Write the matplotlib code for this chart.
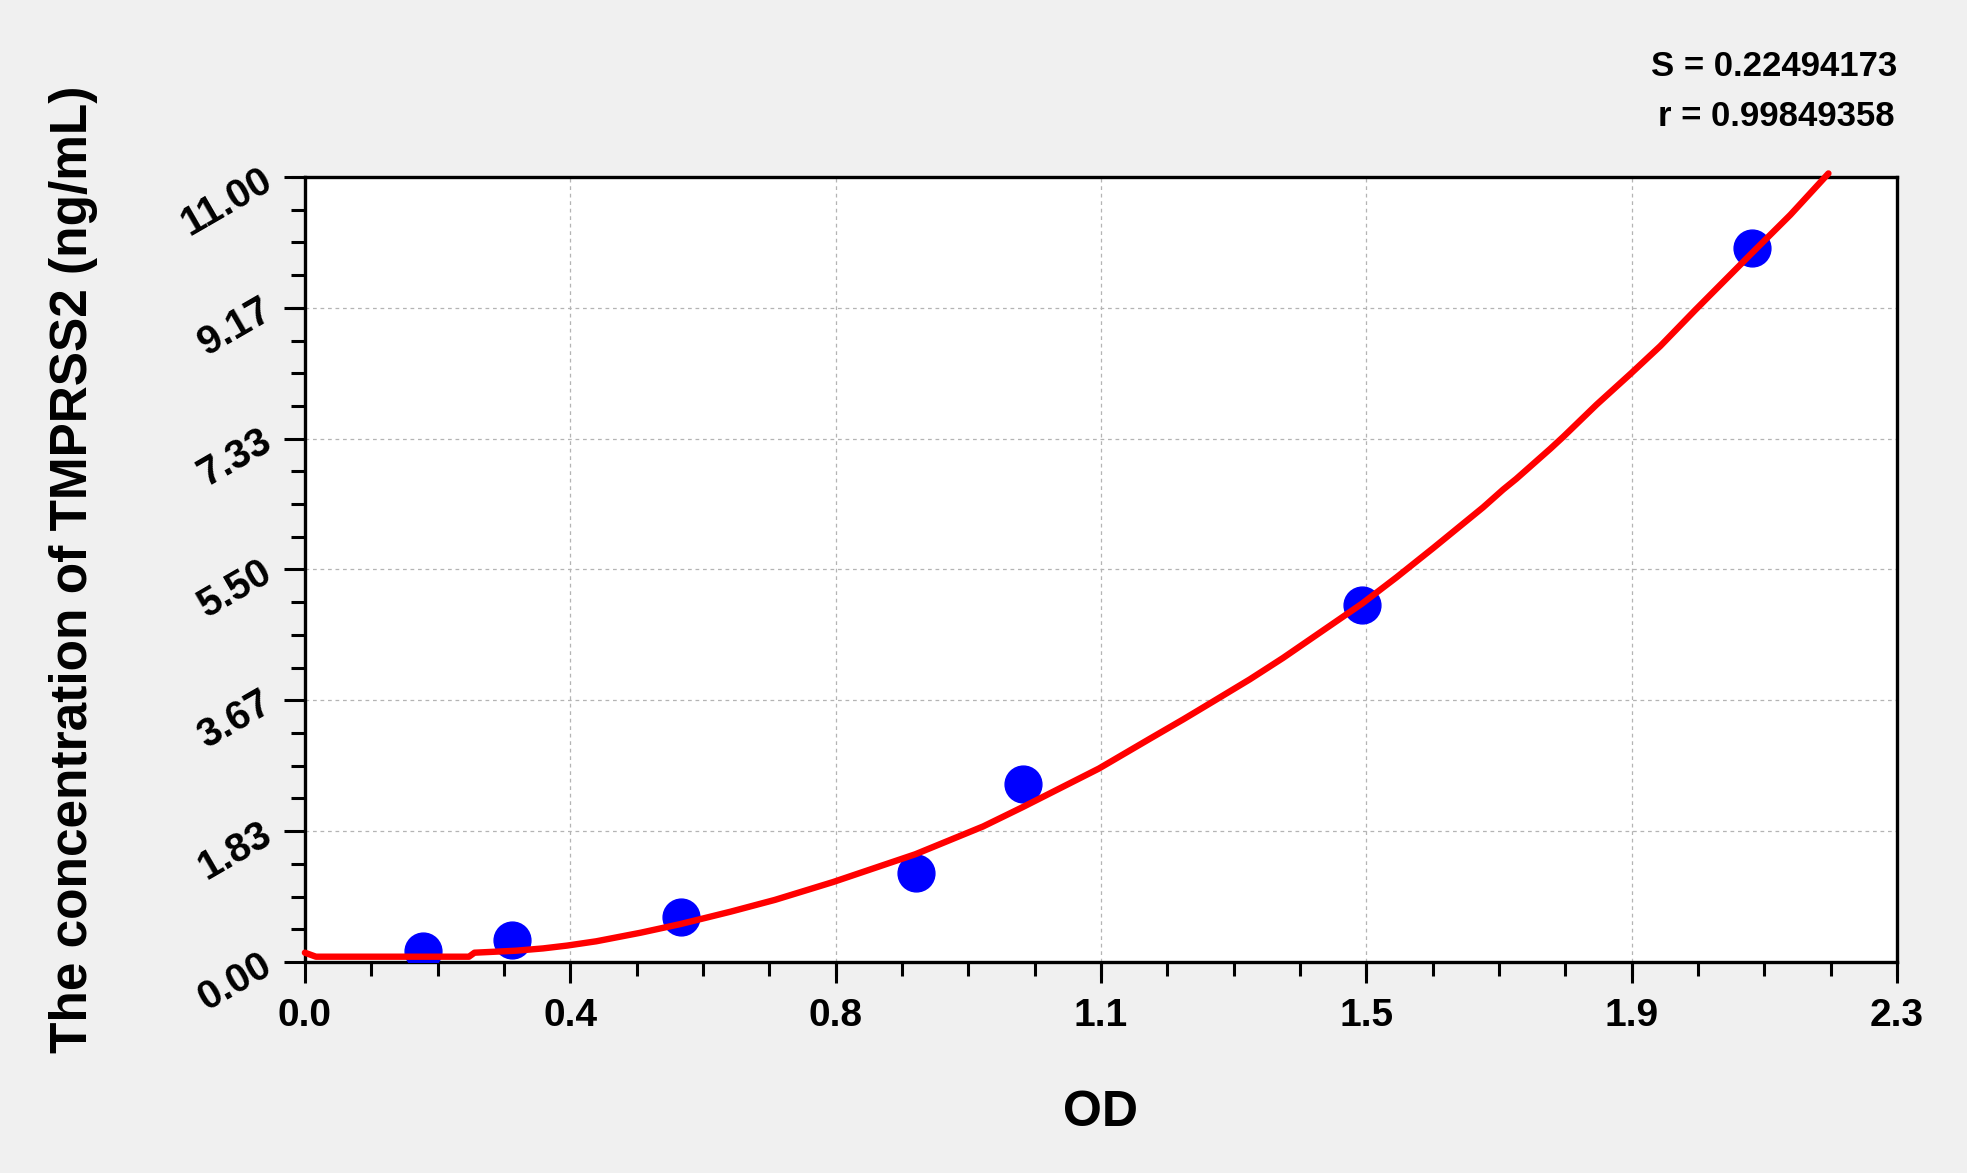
import numpy as np
import matplotlib
matplotlib.use("Agg")
import matplotlib.pyplot as plt
from matplotlib.ticker import AutoMinorLocator

plt.rcParams['font.family'] = ['Liberation Sans', 'DejaVu Sans']
plt.rcParams['font.weight'] = 'bold'

# Standard points
od = [0.170, 0.299, 0.543, 0.883, 1.037, 1.527, 2.090]
conc = [0.156, 0.313, 0.625, 1.25, 2.5, 5.0, 10.0]

# Fitted curve
curve_x = [0.0, 0.016, 0.237, 0.245, 0.305, 0.344, 0.379, 0.421, 0.485, 0.542,
           0.615, 0.679, 0.763, 0.882, 0.980, 1.037, 1.147, 1.221, 1.269, 1.312,
           1.365, 1.413, 1.461, 1.527, 1.577, 1.630, 1.702, 1.731, 1.750, 1.799,
           1.818, 1.866, 1.916, 1.958, 2.008, 2.090, 2.146, 2.201]
curve_y = [0.13, 0.074, 0.074, 0.13, 0.158, 0.19, 0.23, 0.29, 0.41, 0.53,
           0.705, 0.87, 1.12, 1.51, 1.90, 2.17, 2.71, 3.13, 3.40, 3.65,
           3.96, 4.26, 4.58, 5.02, 5.39, 5.80, 6.37, 6.62, 6.77, 7.19,
           7.36, 7.81, 8.25, 8.63, 9.13, 9.93, 10.47, 11.05]

x_ticks = [0.0, 0.3833, 0.7667, 1.15, 1.5333, 1.9167, 2.3]
x_labels = ['0.0', '0.4', '0.8', '1.1', '1.5', '1.9', '2.3']
y_ticks = [0.0, 1.8333, 3.6667, 5.5, 7.3333, 9.1667, 11.0]
y_labels = ['0.00', '1.83', '3.67', '5.50', '7.33', '9.17', '11.00']

stats_text = ['S = 0.22494173', 'r = 0.99849358']

fig = plt.figure(figsize=(19.67, 11.73), dpi=100, facecolor='#f0f0f0')
ax = fig.add_axes([0.155, 0.1799, 0.8094, 0.6692])
ax.set_facecolor('white')

ax.plot(od, conc, linestyle='none', marker='o', markersize=26.5,
        color='#0000ff', zorder=3)
ax.plot(curve_x, curve_y, color='#ff0000', linewidth=4.6, zorder=4,
        clip_on=False, solid_capstyle='round', solid_joinstyle='round')

ax.set_xlim(0, 2.3)
ax.set_ylim(0, 11)
ax.set_xticks(x_ticks)
ax.set_xticklabels(x_labels)
ax.set_yticks(y_ticks)
ax.set_yticklabels(y_labels)
ax.xaxis.set_minor_locator(AutoMinorLocator(4))
ax.yaxis.set_minor_locator(AutoMinorLocator(4))

ax.grid(True, which='major', color='#b4b4b4', linestyle=(0, (3, 3)), linewidth=0.9)
ax.set_axisbelow(True)

for s in ax.spines.values():
    s.set_linewidth(2.4)
    s.set_color('black')

ax.tick_params(which='major', direction='out', length=15, width=2.2,
               colors='black', top=False, right=False)
ax.tick_params(which='minor', direction='out', length=10, width=2.2,
               colors='black', top=False, right=False)
ax.tick_params(axis='x', which='major', labelsize=28, pad=11)
ax.tick_params(axis='y', which='major', labelsize=29, pad=11)

for lab in ax.get_xticklabels():
    lab.set_fontweight('bold')
for lab in ax.get_yticklabels():
    lab.set_fontweight('bold')
    lab.set_rotation(30)
    lab.set_rotation_mode('anchor')
    lab.set_ha('right')
    lab.set_va('center')

ax.set_xlabel('OD', fontsize=36, fontweight='bold', labelpad=40)
ax.set_ylabel('The concentration of TMPRSS2 (ng/mL)', fontsize=37,
              fontweight='bold', labelpad=55)

fig.text(0.9644, 1 - 67 / 1173, stats_text[0], ha='right', va='center',
         fontsize=25, fontweight='bold')
fig.text(0.9634, 1 - 117 / 1173, stats_text[1], ha='right', va='center',
         fontsize=25, fontweight='bold')

fig.savefig('out.png', dpi=100, facecolor=fig.get_facecolor())
